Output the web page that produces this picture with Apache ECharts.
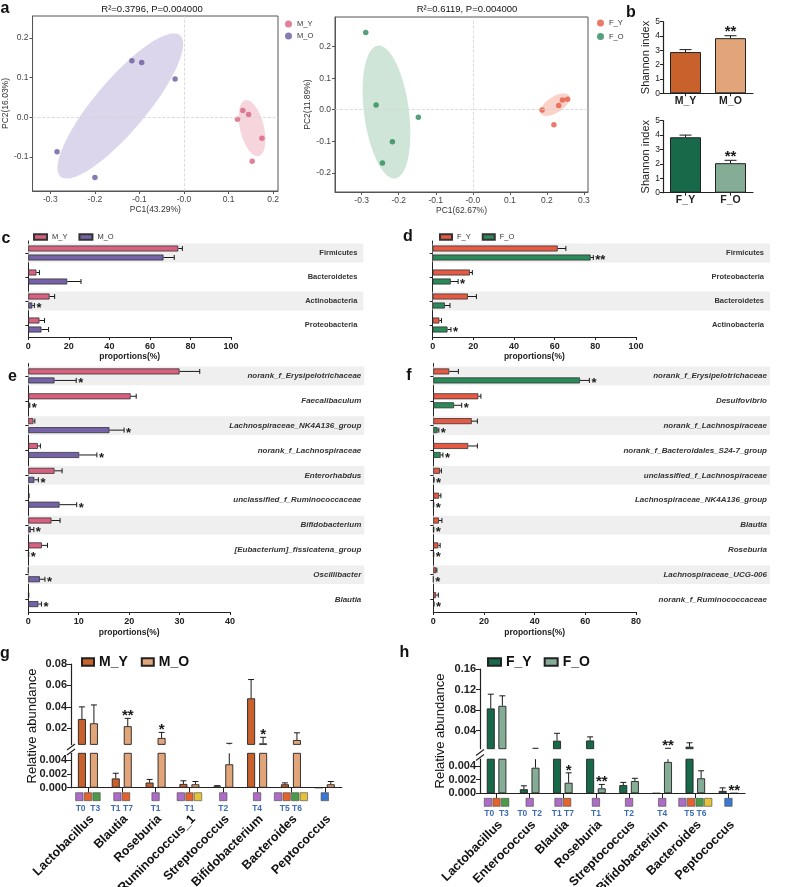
<!DOCTYPE html>
<html><head><meta charset="utf-8">
<script src="https://cdn.jsdelivr.net/npm/echarts@6/dist/echarts.min.js"></script>
<style>html,body{margin:0;padding:0;background:#fff}#c{width:800px;height:887px}</style>
</head><body><div id="c"></div>
<script>
// ================= DATA =================
// a: PCoA scores [PC1, PC2]
const pcaM_Y = [[0.120,-0.005],[0.132,0.017],[0.145,0.007],[0.175,-0.053],[0.153,-0.111]];
const pcaM_O = [[-0.285,-0.087],[-0.200,-0.152],[-0.117,0.142],[-0.095,0.138],[-0.020,0.096]];
const pcaF_Y = [[0.187,-0.001],[0.219,-0.048],[0.232,0.013],[0.242,0.031],[0.256,0.033]];
const pcaF_O = [[-0.289,0.245],[-0.261,0.015],[-0.147,-0.024],[-0.217,-0.102],[-0.244,-0.169]];
// confidence ellipses: [cx, cy, a_x, a_y, b_x, b_y] (centre + two half-axis vectors)
const ellM_Y = [0.1527,-0.0277,-0.0149,0.0705,0.026,0.0070];
const ellM_O = [-0.1430,0.0282,0.134,0.178,0.0440,-0.0424];
const ellF_Y = [0.2221,0.0159,0.0378,0.0286,0.0117,-0.0213];
const ellF_O = [-0.2330,-0.0073,-0.0235,0.2105,0.0600,0.0093];
const pcaMTitle = 'R\u00b2=0.3796, P=0.004000';
const pcaFTitle = 'R\u00b2=0.6119, P=0.004000';
const pcaMTickX = [-0.3,-0.2,-0.1,0,0.1,0.2];
const pcaMTickY = [-0.1,0,0.1,0.2];
const pcaFTickX = [-0.3,-0.2,-0.1,0,0.1,0.2,0.3];
const pcaFTickY = [-0.2,-0.1,0,0.1,0.2];

// b: Shannon index
const shanMCats = ['M_Y','M_O'];
const shanMVal = [2.88, 3.85];
const shanMErr = [3.05, 4.02];
const shanMSig = ['', '**'];
const shanFCats = ['F_Y','F_O'];
const shanFVal = [3.85, 2.05];
const shanFErr = [4.00, 2.25];
const shanFSig = ['', '**'];

// c: phyla, male
const phylaM = ['Firmicutes','Bacteroidetes','Actinobacteria','Proteobacteria'];
const phylaM_Y = [74, 4, 10.5, 5.5];
const phylaM_YErr = [76, 5.5, 13, 8];
const phylaM_O = [66.7, 19.2, 2, 6.5];
const phylaM_OErr = [72, 26, 3, 10];
const phylaM_OSig = ['', '', '*', ''];

// d: phyla, female
const phylaF = ['Firmicutes','Proteobacteria','Bacteroidetes','Actinobacteria'];
const phylaF_Y = [61.5, 18.3, 17.3, 3.3];
const phylaF_YErr = [65.5, 19.5, 21.5, 4.3];
const phylaF_O = [77.7, 8.9, 6, 7.3];
const phylaF_OErr = [79, 12.5, 8.5, 9];
const phylaF_OSig = ['**','*','','*'];

// e: genera, male
const genusM = ['norank_f_Erysipelotrichaceae','Faecalibaculum','Lachnospiraceae_NK4A136_group','norank_f_Lachnospiraceae','Enterorhabdus','unclassified_f_Ruminococcaceae','Bifidobacterium','[Eubacterium]_fissicatena_group','Oscillibacter','Blautia'];
const genusM_Y = [30, 20.3, 1, 1.9, 5.2, 0.1, 4.6, 2.7, 0, 0.05];
const genusM_YErr = [34, 21.4, 1.3, 2.4, 6.7, 0.15, 6.3, 3.8, 0, 0.1];
const genusM_O = [5.2, 0.2, 16.1, 10.1, 1.2, 6.2, 0.5, 0.05, 2.3, 2];
const genusM_OErr = [9.5, 0.3, 19, 13.6, 2, 9.6, 1.1, 0.1, 3.3, 2.6];
const genusM_OSig = ['*','*','*','*','*','*','*','*','*','*'];

// f: genera, female
const genusF = ['norank_f_Erysipelotrichaceae','Desulfovibrio','norank_f_Lachnospiraceae','norank_f_Bacteroidales_S24-7_group','unclassified_f_Lachnospiraceae','Lachnospiraceae_NK4A136_group','Blautia','Roseburia','Lachnospiraceae_UCG-006','norank_f_Ruminococcaceae'];
const genusF_Y = [6.3, 17.8, 15.2, 13.8, 2.6, 2.3, 2.2, 2, 1.1, 1.1];
const genusF_YErr = [9.9, 18.8, 17.4, 17.4, 3.2, 3, 3.4, 2.7, 1.4, 2];
const genusF_O = [57.9, 8.2, 1.7, 2.9, 0.2, 0.1, 0.1, 0.1, 0, 0.2];
const genusF_OErr = [61.6, 11.2, 2.2, 3.8, 0.3, 0.2, 0.2, 0.2, 0, 0.3];
const genusF_OSig = ['*','*','*','*','*','*','*','*','*','*'];

// g: relative abundance, male
const taxaG = ['Lactobacillus','Blautia','Roseburia','Ruminococcus_1','Streptococcus','Bifidobacterium','Bacteroides','Peptococcus'];
const gM_Y = [0.0287, 0.00135, 0.00075, 0.00055, 0.0002, 0.048, 0.0005, 0];
const gM_YErr = [0.040, 0.0021, 0.0012, 0.0010, 0.0003, 0.0655, 0.0007, 0];
const gM_O = [0.0247, 0.022, 0.011, 0.0005, 0.0034, 0.006, 0.0091, 0.0005];
const gM_OErr = [0.0418, 0.0293, 0.0162, 0.0009, 0.006, 0.0116, 0.0158, 0.0009];
const gM_OSig = ['', '**', '*', '', '', '*', '', ''];
const gMarkers = [['P','O','G'],['P','O'],['P'],['P','O','Y'],['P'],['P'],['P','O','G','Y'],['B']];
const gMarkerText = ['T0  T3','T1 T7','T1','T1','T2','T4','T5 T6',''];
const gLowTicks = [0, 0.002, 0.004];
const gUpTicks = [0.02, 0.04, 0.06, 0.08];

// h: relative abundance, female
const taxaH = ['Lactobacillus','Enterococcus','Blautia','Roseburia','Streptococcus','Bifidobacterium','Bacteroides','Peptococcus'];
const hF_Y = [0.0833, 0.0006, 0.0206, 0.021, 0.0012, 0, 0.009, 0.00035];
const hF_YErr = [0.111, 0.0011, 0.035, 0.028, 0.0016, 0, 0.0165, 0.0008];
const hF_O = [0.0884, 0.00375, 0.00155, 0.00073, 0.0018, 0.0046, 0.0022, 0];
const hF_OErr = [0.1078, 0.0058, 0.003, 0.0013, 0.0022, 0.0058, 0.0033, 0];
const hF_OSig = ['', '', '*', '**', '', '**', '', '**'];
const hMarkers = [['P','O','G'],['P'],['P','O'],['P'],['P'],['P'],['P','O','G','Y'],['B']];
const hMarkerText = ['T0  T3','T0  T2','T1 T7','T1','T2','T4','T5 T6',''];
const hLowTicks = [0, 0.002, 0.004];
const hUpTicks = [0.04, 0.08, 0.12, 0.16];
const axisBreak = 0.005;

// ================= STYLE =================
const FONT = '"Liberation Sans", Arial, sans-serif';
const AX = '#222';
const C = {
  mY:'#d8617f', mO:'#7562a9', fY:'#e65a43', fO:'#2a8a5a',
  mYe:'rgba(240,178,192,0.55)', mOe:'rgba(192,180,220,0.55)', fYe:'rgba(248,180,165,0.6)', fOe:'rgba(165,208,182,0.55)',
  gY:'#c9612c', gO:'#e2a57a', hY:'#17694a', hO:'#85ad96', band:'#efefef'
};
const MK = {P:'#ad6dc6', O:'#e4622c', G:'#4c9a48', Y:'#e6c23a', B:'#3b78cf'};

// ================= HELPERS =================
function ellipseSeries(ax, e, color) {
  return {type:'custom', xAxisIndex:ax, yAxisIndex:ax, silent:true, z:1, clip:true,
    data:[[e[0], e[1]]],
    renderItem(params, api) {
      const pts = [];
      for (let k = 0; k < 90; k++) {
        const t = k / 90 * 2 * Math.PI;
        pts.push(api.coord([e[0] + e[2]*Math.cos(t) + e[4]*Math.sin(t), e[1] + e[3]*Math.cos(t) + e[5]*Math.sin(t)]));
      }
      return {type:'polygon', shape:{points:pts}, style:{fill:color}};
    }};
}
function errSeries(o) {
  const lo = o.lo === undefined ? -Infinity : o.lo, hi = o.hi === undefined ? Infinity : o.hi;
  return {type:'custom', xAxisIndex:o.ax, yAxisIndex:o.ax, silent:true, z:6, clip:false,
    data: o.vals.map((v, i) => o.h ? [v, i] : [i, v]),
    renderItem(params, api) {
      const i = params.dataIndex, v = o.vals[i], e = o.errs[i], s = o.sig ? o.sig[i] : '';
      const P = val => o.h ? api.coord([val, i]) : api.coord([i, val]);
      const ls = {stroke:'#1a1a1a', lineWidth:1};
      const kids = [];
      const a = Math.max(v, lo), b = Math.min(e, hi);
      if (e > v && b > a) {
        const pa = P(a), pb = P(b);
        if (o.h) kids.push({type:'line', shape:{x1:pa[0], y1:pa[1]+o.off, x2:pb[0], y2:pb[1]+o.off}, style:ls});
        else kids.push({type:'line', shape:{x1:pa[0]+o.off, y1:pa[1], x2:pb[0]+o.off, y2:pb[1]}, style:ls});
      }
      if (e > v && e >= lo && e <= hi) {
        const pe = P(e);
        if (o.h) kids.push({type:'line', shape:{x1:pe[0], y1:pe[1]+o.off-o.cap, x2:pe[0], y2:pe[1]+o.off+o.cap}, style:ls});
        else kids.push({type:'line', shape:{x1:pe[0]+o.off-o.cap, y1:pe[1], x2:pe[0]+o.off+o.cap, y2:pe[1]}, style:ls});
      }
      const t = Math.max(v, e);
      if (s && t >= lo && t <= hi) {
        const pt = P(t);
        if (o.h) kids.push({type:'text', style:{text:s, x:pt[0]+o.sgap, y:pt[1]+o.off+o.sdy, align:'left', verticalAlign:'middle', font:o.sfont, fill:'#1a1a1a'}});
        else kids.push({type:'text', style:{text:s, x:pt[0]+o.off, y:pt[1]-o.sgap, align:'center', verticalAlign:'middle', font:o.sfont, fill:'#1a1a1a'}});
      }
      return {type:'group', children:kids};
    }};
}
function markerSeries(ax, names, markers, texts) {
  return {type:'custom', xAxisIndex:ax, yAxisIndex:ax, silent:true, z:6, clip:false,
    data: names.map((_, i) => [i, 0]),
    renderItem(params, api) {
      const i = params.dataIndex, c = api.coord([i, 0]), m = markers[i], kids = [];
      m.forEach((k, j) => {
        const cx = c[0] + (j - (m.length - 1) / 2) * 8.6;
        kids.push({type:'rect', shape:{x:cx-3.7, y:c[1]+5, width:7.4, height:8}, style:{fill:MK[k], stroke:'#444', lineWidth:0.6}});
      });
      if (texts[i]) kids.push({type:'text', style:{text:texts[i], x:c[0], y:c[1]+20.5, align:'center', verticalAlign:'middle', font:'bold 8.5px '+FONT, fill:'#3f6db3'}});
      kids.push({type:'text', x:c[0]+4, y:c[1]+29.5, rotation:Math.PI/4, style:{text:names[i], x:0, y:0, align:'right', verticalAlign:'middle', font:'bold 12.5px '+FONT, fill:'#111'}});
      return {type:'group', children:kids};
    }};
}
const bandData = cats => cats.map((_, i) => i % 2 === 0 ? 1 : '-');
const upper = arr => arr.map(v => v > axisBreak ? v : '-');
const pcaFmtX = v => v === 0 ? '-0.0' : v.toFixed(1);
const pcaFmtY = v => v.toFixed(1);

function pcaX(grid, min, max, ticks, name) {
  return {type:'value', gridIndex:grid, min, max, splitLine:{show:false},
    axisLine:{show:true, onZero:false, lineStyle:{color:'#555'}},
    axisTick:{show:true, length:3, customValues:ticks, lineStyle:{color:'#555'}},
    axisLabel:{customValues:ticks, formatter:pcaFmtX, fontSize:8.5, color:'#444', margin:4, fontFamily:FONT},
    name, nameLocation:'middle', nameGap:13, nameTextStyle:{fontSize:8.5, color:'#333', fontFamily:FONT}};
}
function pcaY(grid, min, max, ticks, name, gap) {
  return {type:'value', gridIndex:grid, min, max, splitLine:{show:false},
    axisLine:{show:true, onZero:false, lineStyle:{color:'#555'}},
    axisTick:{show:true, length:3, customValues:ticks, lineStyle:{color:'#555'}},
    axisLabel:{customValues:ticks, formatter:pcaFmtY, fontSize:8.5, color:'#444', margin:4, fontFamily:FONT},
    name, nameLocation:'middle', nameGap:gap, nameTextStyle:{fontSize:8.5, color:'#333', fontFamily:FONT}};
}
function hiddenVal(grid) {
  return {type:'value', gridIndex:grid, min:0, max:1, show:false};
}
function propX(grid, max, interval, gap) {
  return {type:'value', gridIndex:grid, min:0, max, interval, splitLine:{show:false},
    axisLine:{show:true, lineStyle:{color:AX}}, axisTick:{show:true, length:3, lineStyle:{color:AX}},
    axisLabel:{fontSize:9, fontWeight:'bold', color:AX, margin:5, fontFamily:FONT},
    name:'proportions(%)', nameLocation:'middle', nameGap:gap, nameTextStyle:{fontSize:8.5, fontWeight:'bold', color:AX, fontFamily:FONT}};
}
function labelY(grid, cats, margin, italic, size) {
  return {type:'category', gridIndex:grid, data:cats, inverse:true, position:'right',
    axisLine:{show:false}, axisTick:{show:false},
    axisLabel:{inside:true, interval:0, margin, fontSize:size, fontWeight:'bold', fontStyle:italic ? 'italic' : 'normal', color:'#333', fontFamily:FONT}};
}
function barCatY(grid, cats) {
  return {type:'category', gridIndex:grid, data:cats, inverse:true,
    axisLine:{show:true, lineStyle:{color:AX}}, axisTick:{show:true, alignWithLabel:true, interval:0, length:3, lineStyle:{color:AX}},
    axisLabel:{show:false}};
}
function shanX(grid, cats) {
  return {type:'category', gridIndex:grid, data:cats,
    axisLine:{show:true, lineStyle:{color:AX, width:1.2}}, axisTick:{show:true, alignWithLabel:true, length:3, lineStyle:{color:AX}},
    axisLabel:{fontSize:10.5, fontWeight:'bold', color:AX, margin:2, fontFamily:FONT}};
}
function shanY(grid) {
  return {type:'value', gridIndex:grid, min:0, max:5, interval:1, splitLine:{show:false},
    axisLine:{show:true, lineStyle:{color:AX, width:1.2}}, axisTick:{show:true, length:3, lineStyle:{color:AX}},
    axisLabel:{fontSize:8.5, color:AX, margin:3, fontFamily:FONT},
    name:'Shannon index', nameLocation:'middle', nameGap:8.5, nameTextStyle:{fontSize:11, color:AX, fontFamily:FONT}};
}
function abCatX(grid, cats, show) {
  return {type:'category', gridIndex:grid, data:cats, show,
    axisLine:{show:true, lineStyle:{color:AX, width:1.2}}, axisTick:{show:true, alignWithLabel:true, interval:0, length:5, lineStyle:{color:AX}},
    axisLabel:{show:false}};
}
function abY(grid, min, max, ticks, digits) {
  return {type:'value', gridIndex:grid, min, max, splitLine:{show:false},
    axisLine:{show:true, onZero:false, lineStyle:{color:AX, width:1.2}},
    axisTick:{show:true, length:4, customValues:ticks, lineStyle:{color:AX}},
    axisLabel:{customValues:ticks, formatter:v => v.toFixed(digits), fontSize:11, fontWeight:'bold', color:AX, margin:4, fontFamily:FONT}};
}
function hbar(name, ax, data, color) {
  return {type:'bar', name, xAxisIndex:ax, yAxisIndex:ax, data, barWidth:6, barGap:'50%', z:3,
    itemStyle:{color, borderColor:'#333', borderWidth:0.8}};
}
function band(ax, cats, w) {
  return {type:'bar', name:'band', xAxisIndex:ax, yAxisIndex:ax, data:bandData(cats), barWidth:w, silent:true, z:0, itemStyle:{color:C.band}};
}
function vbar(name, ax, data, color, gap) {
  return {type:'bar', name, xAxisIndex:ax, yAxisIndex:ax, data, barWidth:8, barGap:gap, z:3, clip:true,
    itemStyle:{color, borderColor:'#222', borderWidth:0.9}};
}
const hStar = {sfont:'bold 13px '+FONT, sgap:2, sdy:3.3, cap:2.5};
const vStar = {sfont:'bold 15px '+FONT, sgap:2.3, cap:3};

// ================= OPTION =================
const grids = [
  {left:30, top:16, width:248, height:175, show:true, borderColor:'#555', borderWidth:1},
  {left:335, top:17, width:253, height:175, show:true, borderColor:'#555', borderWidth:1},
  {left:663, top:21.7, width:90, height:71.6},
  {left:663, top:120.7, width:90, height:72},
  {left:28.3, top:241, width:335, height:96},
  {left:28.3, top:241, width:202.7, height:96},
  {left:432.7, top:241, width:337.3, height:96},
  {left:432.7, top:241, width:203.3, height:96},
  {left:28.3, top:363.5, width:336, height:248.5},
  {left:28.3, top:363.5, width:201.7, height:248.5},
  {left:433.3, top:363.5, width:336.7, height:248.5},
  {left:433.3, top:363.5, width:202.7, height:248.5},
  {left:71, top:753.3, width:270.7, height:34.4},
  {left:71, top:664, width:270.7, height:80.4},
  {left:480, top:759.2, width:265, height:34.1},
  {left:480, top:669, width:265, height:79.7}
];

const xAxis = [
  pcaX(0, -0.34, 0.211, pcaMTickX, 'PC1(43.29%)'),
  pcaX(1, -0.372, 0.311, pcaFTickX, 'PC1(62.67%)'),
  shanX(2, shanMCats), shanX(3, shanFCats),
  hiddenVal(4), propX(5, 100, 20, 15),
  hiddenVal(6), propX(7, 100, 20, 15),
  hiddenVal(8), propX(9, 40, 10, 16),
  hiddenVal(10), propX(11, 80, 20, 16),
  abCatX(12, taxaG, true), abCatX(13, taxaG, false),
  abCatX(14, taxaH, true), abCatX(15, taxaH, false)
];
const yAxis = [
  pcaY(0, -0.186, 0.255, pcaMTickY, 'PC2(16.03%)', 19),
  pcaY(1, -0.261, 0.294, pcaFTickY, 'PC2(11.89%)', 15),
  shanY(2), shanY(3),
  labelY(4, phylaM, 6, false, 7.5), barCatY(5, phylaM),
  labelY(6, phylaF, 6, false, 7.5), barCatY(7, phylaF),
  labelY(8, genusM, 3, true, 8), barCatY(9, genusM),
  labelY(10, genusF, 3, true, 8), barCatY(11, genusF),
  abY(12, 0, axisBreak, gLowTicks, 3), abY(13, axisBreak, 0.08, gUpTicks, 2),
  abY(14, 0, axisBreak, hLowTicks, 3), abY(15, axisBreak, 0.16, hUpTicks, 2)
];

const zeroLines = {silent:true, symbol:'none', label:{show:false}, lineStyle:{color:'#d4d4d4', type:'dashed', width:0.8}, data:[{xAxis:0},{yAxis:0}]};

const series = [
  // a
  ellipseSeries(0, ellM_O, C.mOe), ellipseSeries(0, ellM_Y, C.mYe),
  {type:'scatter', name:'M_Y', xAxisIndex:0, yAxisIndex:0, data:pcaM_Y, symbolSize:5.5, itemStyle:{color:C.mY}, z:3, markLine:zeroLines},
  {type:'scatter', name:'M_O', xAxisIndex:0, yAxisIndex:0, data:pcaM_O, symbolSize:5.5, itemStyle:{color:'#6a5a9e'}, z:3},
  ellipseSeries(1, ellF_O, C.fOe), ellipseSeries(1, ellF_Y, C.fYe),
  {type:'scatter', name:'F_Y', xAxisIndex:1, yAxisIndex:1, data:pcaF_Y, symbolSize:5.5, itemStyle:{color:C.fY}, z:3, markLine:zeroLines},
  {type:'scatter', name:'F_O', xAxisIndex:1, yAxisIndex:1, data:pcaF_O, symbolSize:5.5, itemStyle:{color:C.fO}, z:3},
  // b
  {type:'bar', name:'bM', xAxisIndex:2, yAxisIndex:2, barWidth:31, z:3,
    data: shanMVal.map((v, i) => ({value:v, itemStyle:{color:[C.gY, C.gO][i]}})),
    itemStyle:{borderColor:'#222', borderWidth:1}},
  errSeries(Object.assign({ax:2, h:false, vals:shanMVal, errs:shanMErr, sig:shanMSig, off:0}, vStar, {cap:6, sgap:3.5})),
  {type:'bar', name:'bF', xAxisIndex:3, yAxisIndex:3, barWidth:31, z:3,
    data: shanFVal.map((v, i) => ({value:v, itemStyle:{color:[C.hY, C.hO][i]}})),
    itemStyle:{borderColor:'#222', borderWidth:1}},
  errSeries(Object.assign({ax:3, h:false, vals:shanFVal, errs:shanFErr, sig:shanFSig, off:0}, vStar, {cap:6, sgap:3.5})),
  // c
  band(4, phylaM, 19),
  hbar('M_Y ', 5, phylaM_Y, C.mY), hbar('M_O ', 5, phylaM_O, C.mO),
  errSeries(Object.assign({ax:5, h:true, vals:phylaM_Y, errs:phylaM_YErr, off:-4.5}, hStar)),
  errSeries(Object.assign({ax:5, h:true, vals:phylaM_O, errs:phylaM_OErr, sig:phylaM_OSig, off:4.5}, hStar)),
  // d
  band(6, phylaF, 19),
  hbar('F_Y ', 7, phylaF_Y, C.fY), hbar('F_O ', 7, phylaF_O, C.fO),
  errSeries(Object.assign({ax:7, h:true, vals:phylaF_Y, errs:phylaF_YErr, off:-4.5}, hStar)),
  errSeries(Object.assign({ax:7, h:true, vals:phylaF_O, errs:phylaF_OErr, sig:phylaF_OSig, off:4.5}, hStar)),
  // e
  band(8, genusM, 18.7),
  hbar('M_Y ', 9, genusM_Y, C.mY), hbar('M_O ', 9, genusM_O, C.mO),
  errSeries(Object.assign({ax:9, h:true, vals:genusM_Y, errs:genusM_YErr, off:-4.5}, hStar)),
  errSeries(Object.assign({ax:9, h:true, vals:genusM_O, errs:genusM_OErr, sig:genusM_OSig, off:4.5}, hStar)),
  // f
  band(10, genusF, 18.7),
  hbar('F_Y ', 11, genusF_Y, C.fY), hbar('F_O ', 11, genusF_O, C.fO),
  errSeries(Object.assign({ax:11, h:true, vals:genusF_Y, errs:genusF_YErr, off:-4.5}, hStar)),
  errSeries(Object.assign({ax:11, h:true, vals:genusF_O, errs:genusF_OErr, sig:genusF_OSig, off:4.5}, hStar)),
  // g
  vbar('M_Y  ', 12, gM_Y, C.gY, '50%'), vbar('M_O  ', 12, gM_O, C.gO, '50%'),
  vbar('M_Y  ', 13, upper(gM_Y), C.gY, '50%'), vbar('M_O  ', 13, upper(gM_O), C.gO, '50%'),
  errSeries(Object.assign({ax:12, h:false, vals:gM_Y, errs:gM_YErr, off:-6, lo:0, hi:axisBreak}, vStar)),
  errSeries(Object.assign({ax:12, h:false, vals:gM_O, errs:gM_OErr, sig:gM_OSig, off:6, lo:0, hi:axisBreak}, vStar)),
  errSeries(Object.assign({ax:13, h:false, vals:gM_Y, errs:gM_YErr, off:-6, lo:axisBreak, hi:0.08}, vStar)),
  errSeries(Object.assign({ax:13, h:false, vals:gM_O, errs:gM_OErr, sig:gM_OSig, off:6, lo:axisBreak, hi:0.08}, vStar)),
  markerSeries(12, taxaG, gMarkers, gMarkerText),
  // h
  vbar('F_Y  ', 14, hF_Y, C.hY, '45%'), vbar('F_O  ', 14, hF_O, C.hO, '45%'),
  vbar('F_Y  ', 15, upper(hF_Y), C.hY, '45%'), vbar('F_O  ', 15, upper(hF_O), C.hO, '45%'),
  errSeries(Object.assign({ax:14, h:false, vals:hF_Y, errs:hF_YErr, off:-5.8, lo:0, hi:axisBreak}, vStar)),
  errSeries(Object.assign({ax:14, h:false, vals:hF_O, errs:hF_OErr, sig:hF_OSig, off:5.8, lo:0, hi:axisBreak}, vStar)),
  errSeries(Object.assign({ax:15, h:false, vals:hF_Y, errs:hF_YErr, off:-5.8, lo:axisBreak, hi:0.16}, vStar)),
  errSeries(Object.assign({ax:15, h:false, vals:hF_O, errs:hF_OErr, sig:hF_OSig, off:5.8, lo:axisBreak, hi:0.16}, vStar)),
  markerSeries(14, taxaH, hMarkers, hMarkerText)
];

const trim = n => n.trim();
const legend = [
  {data:['M_Y','M_O'], left:280, top:15, orient:'vertical', icon:'circle', itemWidth:7, itemHeight:7, itemGap:4, selectedMode:false, formatter:trim, textStyle:{fontSize:7.5, color:'#333', fontFamily:FONT}},
  {data:['F_Y','F_O'], left:592, top:14, orient:'vertical', icon:'circle', itemWidth:7, itemHeight:7, itemGap:5.5, selectedMode:false, formatter:trim, textStyle:{fontSize:7.5, color:'#333', fontFamily:FONT}},
  {data:['M_Y ','M_O '], left:28, top:228, icon:'rect', itemWidth:13, itemHeight:5.5, itemGap:11, selectedMode:false, formatter:trim, textStyle:{fontSize:7.5, color:'#333', fontFamily:FONT}},
  {data:['F_Y ','F_O '], left:434, top:228, icon:'rect', itemWidth:12, itemHeight:5.5, itemGap:11, selectedMode:false, formatter:trim, textStyle:{fontSize:7.5, color:'#333', fontFamily:FONT}},
  {data:['M_Y  ','M_O  '], left:76, top:650, icon:'rect', itemWidth:12, itemHeight:7.5, itemGap:13, selectedMode:false, formatter:trim, textStyle:{fontSize:14, fontWeight:'bold', color:'#111', fontFamily:FONT}},
  {data:['F_Y  ','F_O  '], left:482, top:650, icon:'rect', itemWidth:13, itemHeight:7.5, itemGap:12, selectedMode:false, formatter:trim, textStyle:{fontSize:14, fontWeight:'bold', color:'#111', fontFamily:FONT}}
];

function txt(x, y, text, font, extra) {
  return Object.assign({type:'text', x, y, silent:true, style:{text, font, fill:'#111', align:'center', verticalAlign:'middle'}}, extra || {});
}
const letterFont = 'bold 16px ' + FONT;
const graphic = [
  txt(5, 8.5, 'a', letterFont), txt(631, 13, 'b', letterFont),
  txt(6, 239, 'c', letterFont), txt(408, 237, 'd', letterFont),
  txt(12.5, 376.5, 'e', letterFont), txt(409, 376, 'f', letterFont),
  txt(5, 653.5, 'g', letterFont), txt(404.5, 653, 'h', letterFont),
  txt(152, 9.5, pcaMTitle, '9.5px ' + FONT),
  txt(467, 9.5, pcaFTitle, '9.5px ' + FONT),
  txt(32.7, 726, 'Relative abundance', '13px ' + FONT, {rotation:Math.PI/2}),
  txt(440, 731, 'Relative abundance', '13px ' + FONT, {rotation:Math.PI/2}),
  {type:'line', silent:true, shape:{x1:67, y1:750, x2:75, y2:744}, style:{stroke:'#222', lineWidth:1.2}},
  {type:'line', silent:true, shape:{x1:67, y1:755, x2:75, y2:749}, style:{stroke:'#222', lineWidth:1.2}},
  {type:'line', silent:true, shape:{x1:476, y1:755.5, x2:484, y2:749.5}, style:{stroke:'#222', lineWidth:1.2}},
  {type:'line', silent:true, shape:{x1:476, y1:760.5, x2:484, y2:754.5}, style:{stroke:'#222', lineWidth:1.2}}
];

const chart = echarts.init(document.getElementById('c'), null, {renderer:'canvas'});
chart.setOption({animation:false, backgroundColor:'#fff', textStyle:{fontFamily:FONT}, grid:grids, xAxis, yAxis, legend, series, graphic});
</script>
</body></html>
